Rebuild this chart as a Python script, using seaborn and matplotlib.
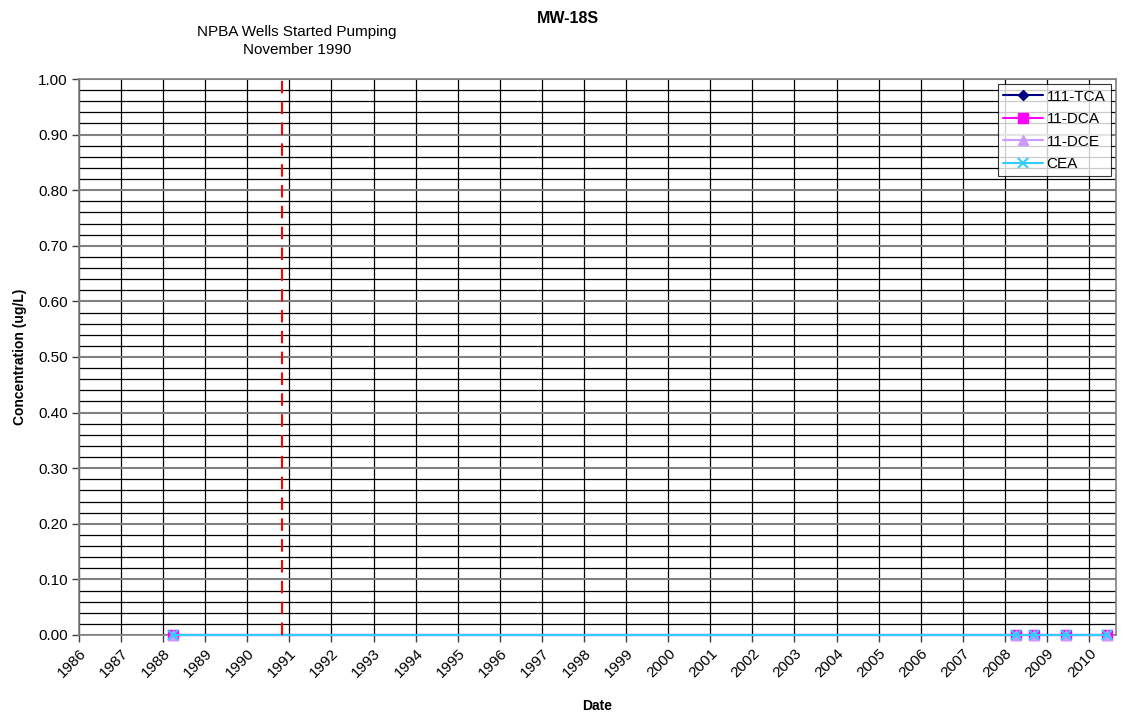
import numpy as np
import pandas as pd
import matplotlib
matplotlib.use('Agg')
import matplotlib.pyplot as plt
import seaborn as sns

# sample dates (decimal years) and results for MW-18S
sample_dates = [1988.24, 2008.27, 2008.69, 2009.45, 2010.42]
tca_111 = [0.0, 0.0, 0.0, 0.0, 0.0]
dca_11 = [0.0, 0.0, 0.0, 0.0, 0.0]
dce_11 = [0.0, 0.0, 0.0, 0.0, 0.0]
cea = [0.0, 0.0, 0.0, 0.0, 0.0]
series_names = ['111-TCA', '11-DCA', '11-DCE', 'CEA']
pumping_start = 1990.83
year_ticks = list(range(1986, 2011))

df = pd.DataFrame({'Date': sample_dates, '111-TCA': tca_111, '11-DCA': dca_11,
                   '11-DCE': dce_11, 'CEA': cea})
df_long = df.melt(id_vars='Date', var_name='Analyte', value_name='Conc')

sns.set_style('white')
plt.rcParams['font.family'] = ['Liberation Sans', 'DejaVu Sans']
plt.rcParams['text.color'] = 'black'
plt.rcParams['axes.labelcolor'] = 'black'
plt.rcParams['xtick.color'] = 'black'
plt.rcParams['ytick.color'] = 'black'

fig = plt.figure(figsize=(11.23, 7.15), dpi=100)
ax = fig.add_axes([0.0703, 0.1119, 0.9235, 0.7776])

colors = {'111-TCA': '#000080', '11-DCA': '#FF00FF', '11-DCE': '#CC99FF', 'CEA': '#33CCFF'}
markers = {'111-TCA': 'D', '11-DCA': 's', '11-DCE': '^', 'CEA': 'x'}
sizes = {'111-TCA': 5, '11-DCA': 7, '11-DCE': 7, 'CEA': 7}

# grid first
ax.set_xlim(1986, 2010.64)
ax.set_ylim(0, 1.0)
ax.set_xticks(year_ticks)
ax.set_xticklabels([str(y) for y in year_ticks], rotation=45, ha='right',
                   rotation_mode='anchor', fontsize=11)
ax.set_yticks(np.arange(0, 1.01, 0.1))
ax.set_yticklabels(['%.2f' % v for v in np.arange(0, 1.01, 0.1)], fontsize=11)
ax.set_yticks(np.arange(0, 1.001, 0.02), minor=True)
ax.grid(True, which='minor', axis='y', color='black', lw=0.9)
ax.grid(True, which='major', axis='y', color='#808080', lw=1.5)
ax.grid(True, which='major', axis='x', color='black', lw=0.9)
ax.set_axisbelow(True)

for name in series_names:
    sub = df_long[df_long['Analyte'] == name]
    sns.lineplot(data=sub, x='Date', y='Conc', ax=ax, color=colors[name],
                 marker=markers[name], markersize=sizes[name], markeredgecolor=colors[name],
                 markeredgewidth=1.5 if name == 'CEA' else 1, lw=1.5, label=name, zorder=3)
for ln in ax.lines:
    ln.set_clip_on(False)

ax.axvline(pumping_start, color='red', ls=(0, (6, 4)), lw=1.5, zorder=4)

ax.tick_params(axis='both', which='major', direction='out', length=5, width=1,
               color='#404040', bottom=True, left=True, pad=3)
ax.tick_params(axis='y', which='minor', length=0)
for s in ax.spines.values():
    s.set_color('#808080')
    s.set_linewidth(1.2)

ax.set_xlabel('Date', fontsize=10, fontweight='bold', labelpad=14)
ax.set_ylabel('Concentration (ug/L)', fontsize=10, fontweight='bold', labelpad=8)

fig.text(0.506, 0.974, 'MW-18S', ha='center', va='center', fontsize=11.5, fontweight='bold')
fig.text(0.2645, 0.943, 'NPBA Wells Started Pumping\nNovember 1990', ha='center', va='center',
         fontsize=11, linespacing=1.35)

leg = ax.legend(loc='upper right', fontsize=11, frameon=True, fancybox=False,
                borderaxespad=0.35, handlelength=2.6, handletextpad=0.25,
                labelspacing=0.55, borderpad=0.35)
leg.get_frame().set_edgecolor('black')
leg.get_frame().set_linewidth(0.8)

fig.savefig('out.png', dpi=100)
